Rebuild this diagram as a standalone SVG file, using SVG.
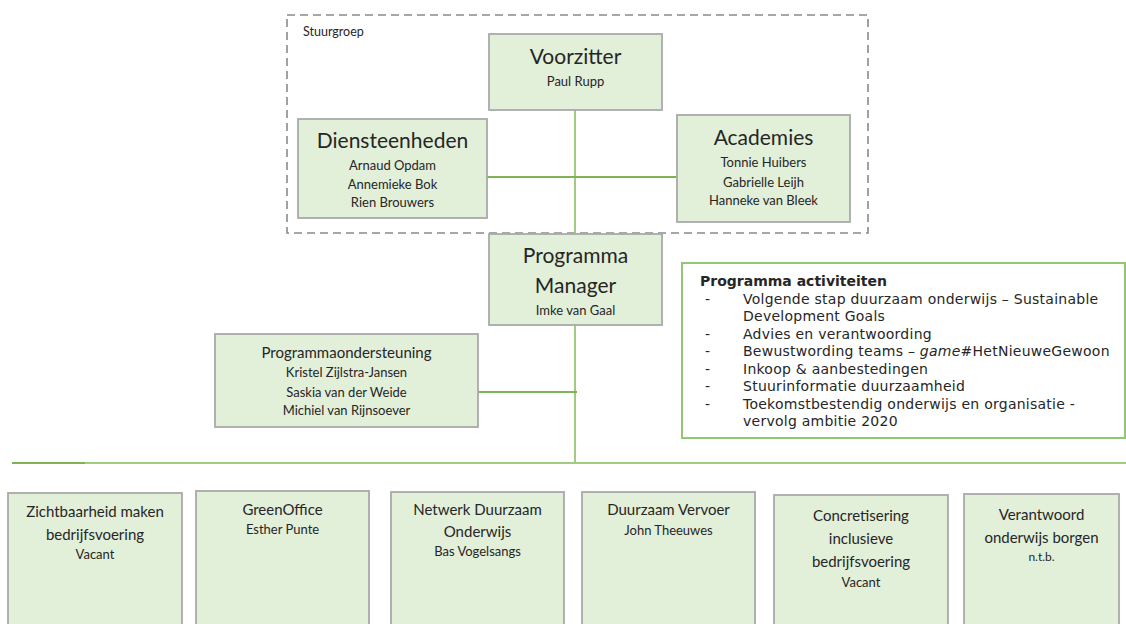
<svg xmlns="http://www.w3.org/2000/svg" width="1126" height="624" viewBox="0 0 1126 624">
<style>
.box{fill:#e2efd9;stroke:#a9a9a9;stroke-width:1.8}
.t{font-family:Lato,"Liberation Sans",sans-serif;fill:#262626;text-anchor:middle}
.big{font-size:21px}
.mid{font-size:15px}
.sm{font-size:13px}
.xs{font-size:13px}
.v{font-family:"DejaVu Sans","Liberation Sans",sans-serif;font-size:14px;letter-spacing:0.25px;fill:#262626}
.conn{stroke:#7cb456;stroke-width:2;fill:none}
.connl{stroke:#9fcc80;stroke-width:2;fill:none}
</style>
<rect width="1126" height="624" fill="#ffffff"/>
<g id="stuurgroep">
<rect x="287" y="15" width="581" height="218" fill="none" stroke="#8a8a8a" stroke-width="1.6" stroke-dasharray="8,5"/>
<text x="303" y="36" class="t" style="text-anchor:start;font-size:12.5px">Stuurgroep</text>
</g>
<g id="connectors">
<line class="connl" x1="575" y1="110" x2="575" y2="234"/>
<line class="conn" x1="487" y1="177" x2="677" y2="177"/>
<line class="connl" x1="575" y1="325" x2="575" y2="463"/>
<line class="conn" x1="478" y1="392" x2="577" y2="392"/>
<line class="connl" x1="12" y1="463" x2="1126" y2="463"/>
<line class="conn" x1="12" y1="463" x2="85" y2="463"/>
</g>
<g id="voorzitter">
<rect class="box" x="489" y="34" width="173" height="76"/>
<text x="575.5" y="64" class="t big">Voorzitter</text>
<text x="575.5" y="86" class="t sm">Paul Rupp</text>
</g>
<g id="diensteenheden">
<rect class="box" x="298" y="119" width="189" height="99"/>
<text x="392.5" y="148" class="t big">Diensteenheden</text>
<text x="392.5" y="170" class="t sm">Arnaud Opdam</text>
<text x="392.5" y="189" class="t sm">Annemieke Bok</text>
<text x="392.5" y="207" class="t sm">Rien Brouwers</text>
</g>
<g id="academies">
<rect class="box" x="677" y="115" width="173" height="107"/>
<text x="763.5" y="145" class="t big">Academies</text>
<text x="763.5" y="167" class="t sm">Tonnie Huibers</text>
<text x="763.5" y="187" class="t sm">Gabrielle Leijh</text>
<text x="763.5" y="205" class="t sm">Hanneke van Bleek</text>
</g>
<g id="programmamanager">
<rect class="box" x="489" y="234" width="173" height="91"/>
<text x="575.5" y="263" class="t big">Programma</text>
<text x="575.5" y="293" class="t big">Manager</text>
<text x="575.5" y="315" class="t sm">Imke van Gaal</text>
</g>
<g id="programmaondersteuning">
<rect class="box" x="215" y="334" width="263" height="93"/>
<text x="346.5" y="358" class="t mid">Programmaondersteuning</text>
<text x="346.5" y="377" class="t sm">Kristel Zijlstra-Jansen</text>
<text x="346.5" y="397" class="t sm">Saskia van der Weide</text>
<text x="346.5" y="415" class="t sm">Michiel van Rijnsoever</text>
</g>
<g id="activiteiten">
<rect x="682" y="263" width="443" height="175" fill="#ffffff" stroke="#92c673" stroke-width="2"/>
<text x="700" y="286" class="v" font-weight="bold" style="letter-spacing:0">Programma activiteiten</text>
<g class="v">
<text x="705" y="303.5">-</text><text x="743" y="303.5">Volgende stap duurzaam onderwijs – Sustainable</text>
<text x="743" y="321">Development Goals</text>
<text x="705" y="338.5">-</text><text x="743" y="338.5">Advies en verantwoording</text>
<text x="705" y="356">-</text><text x="743" y="356">Bewustwording teams – <tspan font-style="italic">game</tspan>#HetNieuweGewoon</text>
<text x="705" y="373.5">-</text><text x="743" y="373.5">Inkoop &amp; aanbestedingen</text>
<text x="705" y="391">-</text><text x="743" y="391">Stuurinformatie duurzaamheid</text>
<text x="705" y="408.5">-</text><text x="743" y="408.5">Toekomstbestendig onderwijs en organisatie -</text>
<text x="743" y="426">vervolg ambitie 2020</text>
</g>
</g>
<g id="zichtbaarheid">
<rect class="box" x="8" y="493" width="174" height="140"/>
<text x="95" y="517" class="t mid">Zichtbaarheid maken</text>
<text x="95" y="540" class="t mid">bedrijfsvoering</text>
<text x="95" y="559" class="t xs">Vacant</text>
</g>
<g id="greenoffice">
<rect class="box" x="196" y="491" width="173" height="140"/>
<text x="282.5" y="515" class="t mid">GreenOffice</text>
<text x="282.5" y="534" class="t xs">Esther Punte</text>
</g>
<g id="netwerk">
<rect class="box" x="391" y="492" width="173" height="140"/>
<text x="477.5" y="515" class="t mid">Netwerk Duurzaam</text>
<text x="477.5" y="537" class="t mid">Onderwijs</text>
<text x="477.5" y="556" class="t xs">Bas Vogelsangs</text>
</g>
<g id="vervoer">
<rect class="box" x="582" y="492" width="173" height="140"/>
<text x="668.5" y="515" class="t mid">Duurzaam Vervoer</text>
<text x="668.5" y="535" class="t xs">John Theeuwes</text>
</g>
<g id="concretisering">
<rect class="box" x="774" y="495" width="174" height="140"/>
<text x="861" y="521" class="t mid">Concretisering</text>
<text x="861" y="544" class="t mid">inclusieve</text>
<text x="861" y="567" class="t mid">bedrijfsvoering</text>
<text x="861" y="587" class="t xs">Vacant</text>
</g>
<g id="verantwoord">
<rect class="box" x="964" y="494" width="155" height="140"/>
<text x="1041.5" y="520" class="t mid">Verantwoord</text>
<text x="1041.5" y="543" class="t mid">onderwijs borgen</text>
<text x="1041.5" y="561" class="t" style="font-size:12px">n.t.b.</text>
</g>
</svg>
